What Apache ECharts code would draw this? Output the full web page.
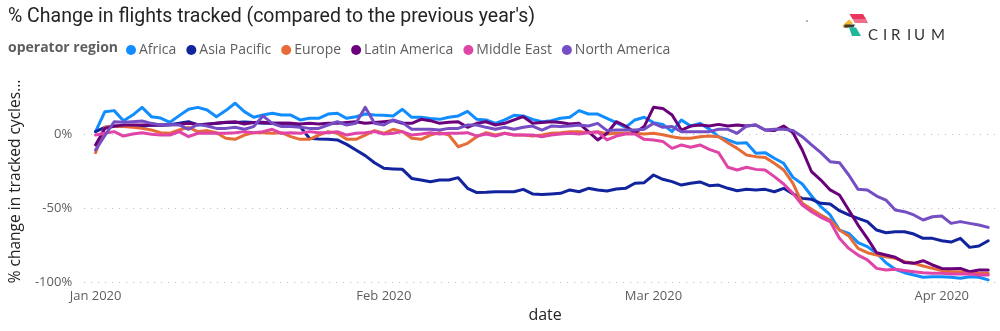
<!DOCTYPE html>
<html>
<head>
<meta charset="utf-8">
<script src="https://cdn.jsdelivr.net/npm/echarts@6/dist/echarts.min.js"></script>
<style>
  html, body { margin: 0; padding: 0; background: #fff; }
  #chart { width: 1000px; height: 331px; }
</style>
</head>
<body>
<div id="chart"></div>
<script>
// ---- data ----
const START_DATE = '2020-01-01';
const DAY_COUNT = 97;
const regions = ['Africa', 'Asia Pacific', 'Europe', 'Latin America', 'Middle East', 'North America'];
const colors = ['#118DFF', '#12239E', '#E66C37', '#6B007B', '#E044A7', '#744EC2'];
const monthTickDates = ['2020-01-01', '2020-02-01', '2020-03-01', '2020-04-01'];
const monthTickLabels = ['Jan 2020', 'Feb 2020', 'Mar 2020', 'Apr 2020'];
const yTickValues = [0, -50, -100];
const yTickLabels = ['0%', '-50%', '-100%'];

const africa = [
  1.6, 15.1, 15.8, 9, 12.8, 18, 11.7, 10.8, 7.9, 12.4,
  16.7, 18, 16.2, 11.7, 15.8, 20.8, 15.1, 11.3, 12.8, 14,
  12.8, 12.8, 9.5, 10.6, 10.6, 13.5, 14, 10.6, 11.7, 13.5,
  12.8, 12.6, 12.2, 16.7, 11.3, 11.3, 10.4, 9.9, 11.3, 12.2,
  15.3, 9.9, 9.5, 7.2, 9.5, 12.6, 12.2, 9.9, 8.3, 9,
  10.6, 11.3, 15.8, 13.5, 13.5, 10.6, 7.7, 4.5, 9.5, 11.3,
  7.7, 6.5, 1.6, 9.5, 5.4, 7.2, 3.2, -1.8, -4, -6.3,
  -5.9, -13, -12.6, -16.4, -19.8, -29.3, -33.8, -41.9, -49.1, -54.7,
  -64.9, -67.1, -73.4, -76.1, -80.6, -87, -91.4, -93.7, -95.3, -96.8,
  -96.4, -96.4, -96.8, -97.5, -96.4, -96.8, -98.6
];
const asiaPacific = [
  1.6, 4.5, 5, 5.4, 5, 5, 6.1, 5.9, 6.3, 7.2,
  8.3, 6.1, 6.8, 7.2, 7.7, 7.7, 8.1, 7.7, 7.2, 7.2,
  7.2, 7.2, 5, -2.9, -3.4, -3.6, -4, -7, -10.8, -14.6,
  -19.4, -23.2, -23.6, -23.9, -30, -31.1, -32.2, -31.1, -31.1, -29.5,
  -36.7, -39.6, -39.4, -39, -39, -39, -37.4, -40.5, -40.8, -40.5,
  -40.1, -37.8, -39, -36.7, -37.8, -38.5, -37.2, -36.7, -33.3, -32.9,
  -27.7, -30.6, -32.2, -34.5, -33.3, -32.4, -34.9, -34.5, -36.7, -38.3,
  -37.4, -37.8, -37.4, -39, -36.7, -40.5, -43.5, -44.1, -46.8, -47.3,
  -51.8, -54.7, -57, -59.2, -64.9, -66.7, -66, -66, -67.6, -70.5,
  -70.5, -72.1, -73, -70.5, -76.6, -75.7, -72.1
];
const europe = [
  -12.6, 4.5, 5.4, 5, 4.5, 3.8, 2.7, 0.9, 0.5, 2.7,
  4.5, 1.6, 2.3, 0.9, -2.9, -3.6, -0.7, 0.9, 0.9, 0.5,
  0.9, -1.8, -3.6, -3.6, -0.7, 1.6, 0.5, -3.6, -3.6, -0.7,
  2.3, 0.5, 3.2, 1.6, -2.9, -3.6, -0.7, 0.9, -0.7, -8.6,
  -6.3, -1.8, 0.9, -0.7, 0.5, -0.7, -0.7, -1.4, -0.7, 0.5,
  0.9, 1.6, 1.6, 0.9, 1.6, 0, 0.5, 0.5, 0.5, 0,
  0.5, -0.5, -1.8, -2.9, -2.9, -1.8, -1.4, -1.8, -5.9, -9.7,
  -14.2, -15.3, -15.8, -19.8, -24.3, -33.3, -46.8, -50.9, -54.7, -58.1,
  -64.9, -68.9, -77.3, -80.2, -81.8, -82.9, -84, -86.3, -87.4, -89.2,
  -90.8, -92.3, -93, -93, -93.7, -94.1, -94.1
];
const latinAmerica = [
  -7.4, 3.8, 5.4, 6, 6, 6, 6, 6, 6.3, 6.5,
  7.2, 6.5, 6.5, 7.2, 7.9, 8.3, 6.8, 7.7, 7.9, 7.2,
  7.2, 7.2, 6.8, 7.2, 6.8, 7.2, 7.2, 7.7, 8.3, 7.2,
  7.7, 8.3, 9, 7.2, 7.2, 9.9, 9, 7.2, 7.9, 8.3,
  4.5, 7.2, 8.3, 6.1, 7.2, 9.5, 11.7, 7.2, 7.7, 8.3,
  7.7, 6.8, 7.2, 1.6, -4, 0.5, 8.3, 5.4, 0.9, 5,
  18, 17.3, 12.8, 2.7, 5.4, 6.1, 5.4, 6.5, 5.4, 6.1,
  5.4, 6.1, 2.7, 2.3, 5.4, 0.9, -10.8, -25.5, -31.1, -37.8,
  -41.2, -51.4, -61.5, -70.5, -80.2, -81.8, -83.3, -86.9, -87.4, -85.6,
  -88.5, -90.8, -91, -90.8, -93, -91.9, -91.9
];
const middleEast = [
  -0.7, 0.5, 1.6, -1.4, 0, 0.9, -0.2, -0.7, -0.7, 1.6,
  -1.8, 0.5, 0.5, 0.5, 0.5, 0.9, 1.6, 0.9, 1.6, 3.2,
  0.5, 0.9, 0.5, 1.6, 0.9, 0.9, 1.6, -0.7, 0.5, 0.9,
  1.6, 0, 0.5, 1.6, -0.7, 0, 0.9, 0, 0.5, 0.5,
  0.9, -1.4, 0, -1.4, 0.5, -0.7, -0.7, -0.7, -1.8, -0.7,
  0, 0.5, 0, 0.9, 1.4, -4, -1.4, 0, 0, -3.6,
  -4, -5, -9.7, -7.4, -9, -7.4, -10.4, -12.6, -22.5, -24.3,
  -22.5, -23.9, -24.3, -28.8, -33.8, -40.1, -48, -52.5, -56.3, -59.2,
  -70.5, -77.3, -81.8, -85.1, -90.8, -91.9, -91.4, -92.3, -93, -93.7,
  -94.1, -94.1, -94.6, -94.6, -94.6, -95.3, -95.3
];
const northAmerica = [
  -10.8, -1, 8.3, 7.9, 8.3, 8.8, 7.2, 6.1, 6.5, 6.1,
  3.2, 6.5, 5.4, 3.8, 3.8, 4.5, 3.2, 5, 12.2, 7.2,
  5, 5, 4.5, 3.8, 3.8, 6.1, 8.3, 6.1, 7.2, 18,
  7.2, 6.1, 9.5, 7.7, 3.2, 3.2, 3.2, 2.7, 3.8, 3.8,
  6.1, 6.1, 4.5, 3.2, 4.5, 3.2, 4.5, 5.4, 2.7, 5.4,
  5, 5.4, 6.1, 5.4, 7.2, 2.3, 2.7, 2.7, 2.7, 3.2,
  7.2, 4.5, 5, 1.6, 1.6, 1.6, 1.6, 3.2, 3.2, 0.5,
  5.4, 6.1, 2.7, 3.2, 3.2, 2.3, -1.8, -7.4, -12.6, -18.7,
  -19.4, -27.7, -37.4, -37.8, -41.9, -44.6, -51.4, -52.5, -54.7, -58.1,
  -55.9, -55.4, -60.4, -59.2, -60.4, -61.5, -63.1
];
const seriesValues = [africa, asiaPacific, europe, latinAmerica, middleEast, northAmerica];
const logoLetters = ['C', 'I', 'R', 'I', 'U', 'M'];

// ---- build ----
const DAY = 86400000;
const t0 = Date.parse(START_DATE + 'T00:00:00Z');
const dates = [];
for (let i = 0; i < DAY_COUNT; i++) dates.push(t0 + i * DAY);
const monthTicks = monthTickDates.map(d => Date.parse(d + 'T00:00:00Z'));

const FONT = "'Segoe UI', 'Open Sans', sans-serif";

const series = regions.map((name, k) => ({
  name: name,
  type: 'line',
  data: dates.map((t, i) => [t, seriesValues[k][i]]),
  showSymbol: false,
  symbol: 'none',
  lineStyle: { width: 3, color: colors[k], cap: 'round', join: 'round' },
  itemStyle: { color: colors[k] },
  z: 3 + k,
  silent: true
}));
// dotted horizontal gridlines
series.push({
  name: '_grid',
  type: 'line',
  data: [],
  z: 1,
  silent: true,
  markLine: {
    silent: true,
    symbol: ['none', 'none'],
    label: { show: false },
    lineStyle: { color: '#b8b8b8', width: 1, type: [1, 6] },
    data: yTickValues.map(v => ({ yAxis: v }))
  }
});

// logo letters laid out left to right
const letterX = [868, 883, 891, 907, 914, 931];
const logoGraphics = logoLetters.map((ch, i) => ({
  type: 'text', x: letterX[i], y: 28,
  style: { text: ch, fill: '#333333', font: "15px 'Lato', 'Open Sans', sans-serif" }
}));

const chart = echarts.init(document.getElementById('chart'), null, { renderer: 'canvas' });
chart.setOption({
  animation: false,
  backgroundColor: '#ffffff',
  color: colors,
  title: [
    {
      text: '% Change in flights tracked (compared to the previous year\'s)',
      left: 8, top: 7, padding: 0,
      textStyle: { fontFamily: "Roboto, sans-serif", fontSize: 19.5, fontWeight: 'normal', color: '#252423' }
    },
    {
      text: 'operator region',
      left: 8, top: 41, padding: 0,
      textStyle: { fontFamily: FONT, fontSize: 14, fontWeight: 'bold', color: '#605E5C' }
    }
  ],
  legend: {
    data: regions,
    left: 126, top: 43, padding: 0,
    icon: 'circle',
    itemWidth: 10, itemHeight: 10,
    itemGap: 10,
    textStyle: { fontFamily: FONT, fontSize: 14, color: '#605E5C', padding: [0, 0, 0, -2] },
    selectedMode: false
  },
  grid: { left: 82, right: 2, top: 97, bottom: 49, containLabel: false },
  xAxis: {
    type: 'value',
    min: t0 - 1.23 * DAY,
    max: t0 + 97.05 * DAY,
    name: 'date',
    nameLocation: 'middle',
    nameGap: 24,
    nameTextStyle: { fontFamily: FONT, fontSize: 16, color: '#252423', padding: [0, 0, 0, 8] },
    axisLine: { show: false },
    axisTick: { show: false },
    splitLine: { show: false },
    axisLabel: {
      customValues: monthTicks,
      formatter: v => {
        const idx = monthTicks.indexOf(v);
        return idx >= 0 ? monthTickLabels[idx] : '';
      },
      fontFamily: FONT, fontSize: 13, color: '#605E5C', margin: 8
    }
  },
  yAxis: {
    type: 'value',
    min: -100, max: 25,
    name: '% change in tracked cycles...',
    nameLocation: 'middle',
    nameGap: 52,
    nameTextStyle: { fontFamily: FONT, fontSize: 15.5, color: '#252423', padding: [0, 0, 0, 16] },
    axisLine: { show: false },
    axisTick: { show: false },
    splitLine: { show: false },
    axisLabel: {
      customValues: yTickValues,
      formatter: v => {
        const idx = yTickValues.indexOf(v);
        return idx >= 0 ? yTickLabels[idx] : '';
      },
      fontFamily: FONT, fontSize: 13, color: '#605E5C', margin: 12
    }
  },
  graphic: [
    { type: 'circle', shape: { cx: 807, cy: 21, r: 0.8 }, style: { fill: '#555' } },
    { type: 'polygon', shape: { points: [[849.5, 14], [863, 14], [866, 19], [852.5, 19]] }, style: { fill: '#E8365D' } },
    { type: 'polygon', shape: { points: [[852.5, 19], [866, 19], [868, 23], [855, 23]] }, style: { fill: '#EF6F8A' } },
    { type: 'polygon', shape: { points: [[849, 19.5], [853, 23], [847, 28.5], [842, 26]] }, style: { fill: '#F5B82E' } },
    { type: 'polygon', shape: { points: [[845, 24.5], [855, 24.5], [853.5, 27.5], [843.5, 27.5]] }, style: { fill: '#3a3a3a' } },
    { type: 'polygon', shape: { points: [[849, 27.5], [856, 27.5], [861, 36], [852, 36]] }, style: { fill: '#1FB89A' } }
  ].concat(logoGraphics),
  series: series
});
</script>
</body>
</html>
